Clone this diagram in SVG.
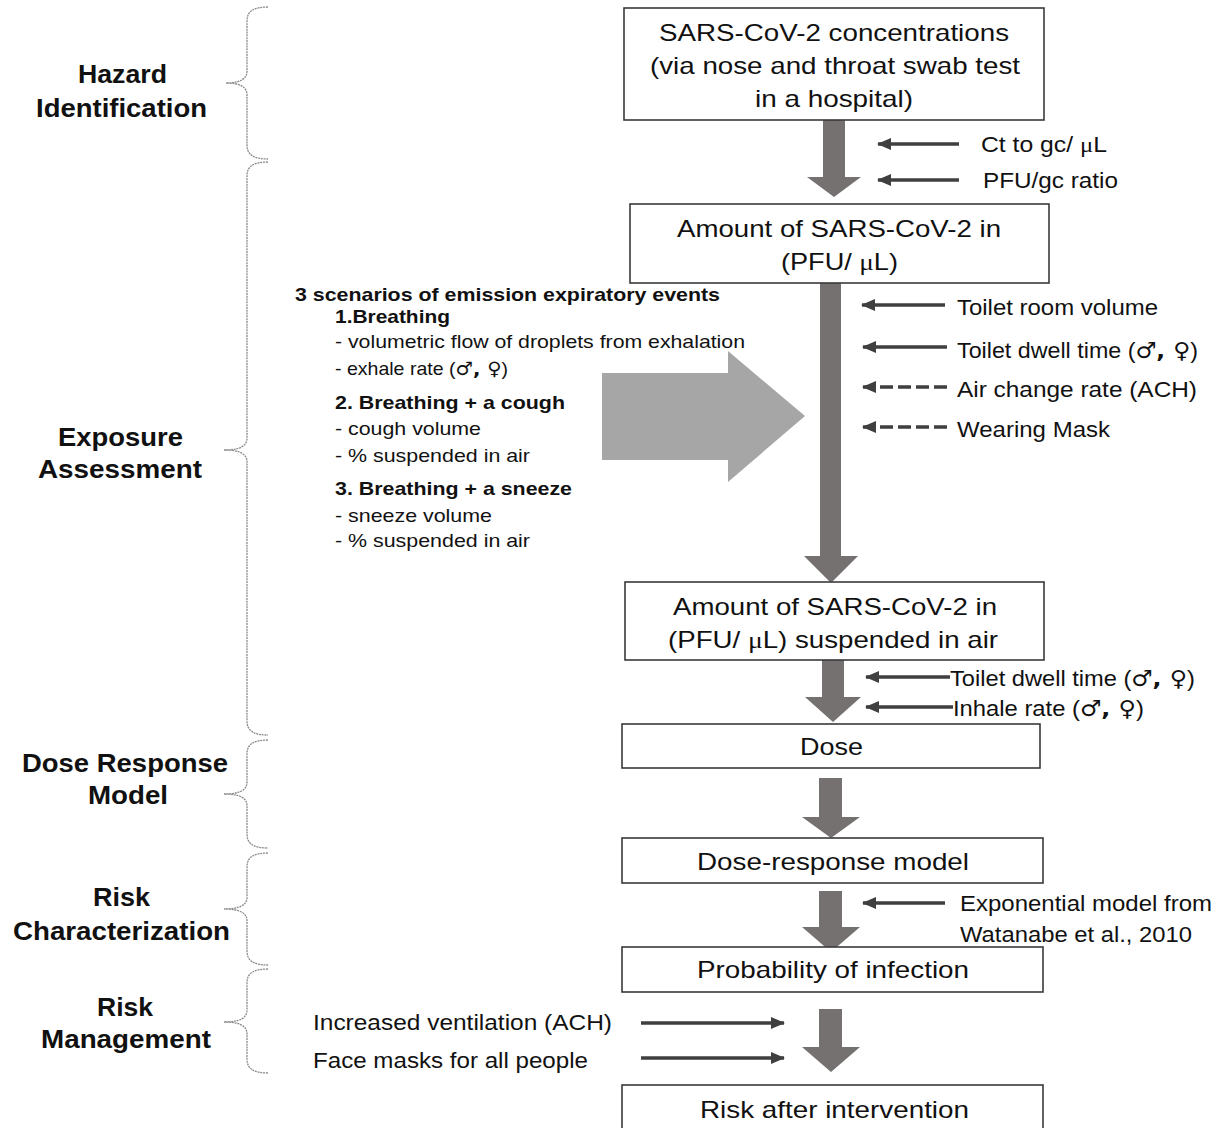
<svg xmlns="http://www.w3.org/2000/svg" width="1219" height="1128" viewBox="0 0 1219 1128">
<style>
text{font-family:"Liberation Sans",Arial,"DejaVu Sans",sans-serif;fill:#111}
.lbl{font-weight:bold;font-size:26px}
.bx{font-size:24px}
.sd{font-size:22px}
.sc{font-size:18.5px}
.scb{font-size:19px;font-weight:bold}
.mu{font-family:"Liberation Serif","Times New Roman",serif}
.sym{font-family:"DejaVu Sans",sans-serif;font-weight:bold}
.box{fill:#fff;stroke:#3a3a3a;stroke-width:1.6}
.brace{fill:none;stroke:#8a8a8a;stroke-width:1.3;stroke-dasharray:2 0.8}
.thick{fill:#767171}
.thin{stroke:#3f3f3f;stroke-width:3.5;fill:none}
.dash{stroke-dasharray:13 5}
</style>
<defs>
<marker id="ah" markerUnits="userSpaceOnUse" markerWidth="14" markerHeight="12" refX="13" refY="6" orient="auto">
<path d="M0,0 L14,6 L0,12 Z" fill="#3f3f3f"/>
</marker>
</defs>
<rect width="1219" height="1128" fill="#fff"/>

<g id="braces">
<path class="brace" d="M268,7 C254,7 247,11 247,21 L247,71 C247,79 240,83 226,83 C240,83 247,87 247,95 L247,145 C247,155 254,159 268,159"/>
<path class="brace" d="M268,162 C254,162 247,166 247,176 L247,438 C247,446 240,450 224,450 C240,450 247,454 247,462 L247,721 C247,731 254,735 268,735"/>
<path class="brace" d="M268,740 C254,740 247,744 247,754 L247,782 C247,790 240,794 224,794 C240,794 247,798 247,806 L247,834 C247,844 254,848 268,848"/>
<path class="brace" d="M268,853 C254,853 247,857 247,867 L247,897 C247,905 240,909 224,909 C240,909 247,913 247,921 L247,951 C247,961 254,965 268,965"/>
<path class="brace" d="M268,969 C254,969 247,973 247,983 L247,1010 C247,1018 240,1022 224,1022 C240,1022 247,1026 247,1034 L247,1059 C247,1069 254,1073 268,1073"/>
</g>

<g id="phase-labels">
<g id="hazard"><text class="lbl" x="78" y="83" textLength="89" lengthAdjust="spacingAndGlyphs">Hazard</text><text class="lbl" x="36" y="117" textLength="171" lengthAdjust="spacingAndGlyphs">Identification</text></g>
<g id="exposure"><text class="lbl" x="58" y="446" textLength="125" lengthAdjust="spacingAndGlyphs">Exposure</text><text class="lbl" x="38" y="478" textLength="164" lengthAdjust="spacingAndGlyphs">Assessment</text></g>
<g id="doseresp"><text class="lbl" x="22" y="772" textLength="206" lengthAdjust="spacingAndGlyphs">Dose Response</text><text class="lbl" x="88" y="804" textLength="80" lengthAdjust="spacingAndGlyphs">Model</text></g>
<g id="riskchar"><text class="lbl" x="93" y="906" textLength="57" lengthAdjust="spacingAndGlyphs">Risk</text><text class="lbl" x="13" y="940" textLength="217" lengthAdjust="spacingAndGlyphs">Characterization</text></g>
<g id="riskmgmt"><text class="lbl" x="97" y="1016" textLength="56" lengthAdjust="spacingAndGlyphs">Risk</text><text class="lbl" x="41" y="1048" textLength="170" lengthAdjust="spacingAndGlyphs">Management</text></g>
</g>

<g id="connectors">
<polygon class="thick" points="823,120 845,120 845,177 861,177 834,197 807,177 823,177"/>
<polygon class="thick" points="820,283 841,283 841,556 858,556 831,583 804,556 820,556"/>
<polygon class="thick" points="822,660 844,660 844,697 861,697 833,722 805,697 822,697"/>
<polygon class="thick" points="819,778 842,778 842,817 860,817 831,838 802,817 819,817"/>
<polygon class="thick" points="819,891 842,891 842,927 860,927 831,952 802,927 819,927"/>
<polygon class="thick" points="819,1009 842,1009 842,1047 860,1047 831,1072 802,1047 819,1047"/>
<polygon fill="#a6a6a6" points="602,373 728,373 728,351 805,416 728,482 728,460 602,460"/>
<line class="thin" x1="959" y1="144" x2="878" y2="144" marker-end="url(#ah)"/>
<line class="thin" x1="959" y1="180" x2="878" y2="180" marker-end="url(#ah)"/>
<line class="thin" x1="945" y1="305" x2="862" y2="305" marker-end="url(#ah)"/>
<line class="thin" x1="947" y1="347" x2="863" y2="347" marker-end="url(#ah)"/>
<line class="thin dash" x1="947" y1="387" x2="863" y2="387" marker-end="url(#ah)"/>
<line class="thin dash" x1="947" y1="427" x2="863" y2="427" marker-end="url(#ah)"/>
<line class="thin" x1="950" y1="677" x2="866" y2="677" marker-end="url(#ah)"/>
<line class="thin" x1="953" y1="707" x2="866" y2="707" marker-end="url(#ah)"/>
<line class="thin" x1="945" y1="903" x2="863" y2="903" marker-end="url(#ah)"/>
<line class="thin" x1="641" y1="1023" x2="784" y2="1023" marker-end="url(#ah)"/>
<line class="thin" x1="641" y1="1058" x2="784" y2="1058" marker-end="url(#ah)"/>
</g>

<g id="box-concentrations">
<rect class="box" x="624" y="8" width="420" height="112"/>
<text class="bx" x="659" y="41" textLength="350" lengthAdjust="spacingAndGlyphs">SARS-CoV-2 concentrations</text>
<text class="bx" x="650" y="74" textLength="370" lengthAdjust="spacingAndGlyphs">(via nose and throat swab test</text>
<text class="bx" x="755" y="107" textLength="158" lengthAdjust="spacingAndGlyphs">in a hospital)</text>
</g>
<g id="box-amount">
<rect class="box" x="630" y="204" width="419" height="79"/>
<text class="bx" x="677" y="237" textLength="324" lengthAdjust="spacingAndGlyphs">Amount of SARS-CoV-2 in</text>
<text class="bx" x="781" y="270" textLength="117" lengthAdjust="spacingAndGlyphs">(PFU/ <tspan class="mu">μ</tspan>L)</text>
</g>
<g id="box-suspended">
<rect class="box" x="625" y="582" width="419" height="78"/>
<text class="bx" x="673" y="615" textLength="324" lengthAdjust="spacingAndGlyphs">Amount of SARS-CoV-2 in</text>
<text class="bx" x="668" y="648" textLength="330" lengthAdjust="spacingAndGlyphs">(PFU/ <tspan class="mu">μ</tspan>L) suspended in air</text>
</g>
<g id="box-dose">
<rect class="box" x="622" y="724" width="418" height="44"/>
<text class="bx" x="800" y="755" textLength="63" lengthAdjust="spacingAndGlyphs">Dose</text>
</g>
<g id="box-doseresponse">
<rect class="box" x="622" y="838" width="421" height="45"/>
<text class="bx" x="697" y="870" textLength="272" lengthAdjust="spacingAndGlyphs">Dose-response model</text>
</g>
<g id="box-probability">
<rect class="box" x="622" y="947" width="421" height="45"/>
<text class="bx" x="697" y="978" textLength="272" lengthAdjust="spacingAndGlyphs">Probability of infection</text>
</g>
<g id="box-risk-after">
<rect class="box" x="622" y="1085" width="421" height="46"/>
<text class="bx" x="700" y="1118" textLength="269" lengthAdjust="spacingAndGlyphs">Risk after intervention</text>
</g>

<g id="inputs">
<text class="sd" x="981" y="152" textLength="126" lengthAdjust="spacingAndGlyphs">Ct to gc/ <tspan class="mu">μ</tspan>L</text>
<text class="sd" x="983" y="188" textLength="135" lengthAdjust="spacingAndGlyphs">PFU/gc ratio</text>
<text class="sd" x="957" y="315" textLength="201" lengthAdjust="spacingAndGlyphs">Toilet room volume</text>
<text class="sd" x="957" y="358" textLength="241" lengthAdjust="spacingAndGlyphs">Toilet dwell time (<tspan class="sym">♂, ♀</tspan>)</text>
<text class="sd" x="957" y="397" textLength="240" lengthAdjust="spacingAndGlyphs">Air change rate (ACH)</text>
<text class="sd" x="957" y="437" textLength="153" lengthAdjust="spacingAndGlyphs">Wearing Mask</text>
<text class="sd" x="950" y="686" textLength="245" lengthAdjust="spacingAndGlyphs">Toilet dwell time (<tspan class="sym">♂, ♀</tspan>)</text>
<text class="sd" x="953" y="716" textLength="191" lengthAdjust="spacingAndGlyphs">Inhale rate (<tspan class="sym">♂, ♀</tspan>)</text>
<text class="sd" x="960" y="911" textLength="252" lengthAdjust="spacingAndGlyphs">Exponential model from</text>
<text class="sd" x="960" y="942" textLength="232" lengthAdjust="spacingAndGlyphs">Watanabe et al., 2010</text>
<text class="sd" x="313" y="1030" textLength="299" lengthAdjust="spacingAndGlyphs">Increased ventilation (ACH)</text>
<text class="sd" x="313" y="1068" textLength="275" lengthAdjust="spacingAndGlyphs">Face masks for all people</text>
</g>

<g id="scenarios">
<text class="scb" x="295" y="301" textLength="425" lengthAdjust="spacingAndGlyphs">3 scenarios of emission expiratory events</text>
<text class="scb" x="335" y="323" textLength="115" lengthAdjust="spacingAndGlyphs">1.Breathing</text>
<text class="sc" x="335" y="348" textLength="410" lengthAdjust="spacingAndGlyphs">- volumetric flow of droplets from exhalation</text>
<text class="sc" x="335" y="375" textLength="173" lengthAdjust="spacingAndGlyphs">- exhale rate (<tspan class="sym" font-weight="normal">♂, ♀</tspan>)</text>
<text class="scb" x="335" y="409" textLength="230" lengthAdjust="spacingAndGlyphs">2. Breathing + a cough</text>
<text class="sc" x="335" y="435" textLength="146" lengthAdjust="spacingAndGlyphs">- cough volume</text>
<text class="sc" x="335" y="462" textLength="195" lengthAdjust="spacingAndGlyphs">- % suspended in air</text>
<text class="scb" x="335" y="495" textLength="237" lengthAdjust="spacingAndGlyphs">3. Breathing + a sneeze</text>
<text class="sc" x="335" y="522" textLength="157" lengthAdjust="spacingAndGlyphs">- sneeze volume</text>
<text class="sc" x="335" y="547" textLength="195" lengthAdjust="spacingAndGlyphs">- % suspended in air</text>
</g>
</svg>
